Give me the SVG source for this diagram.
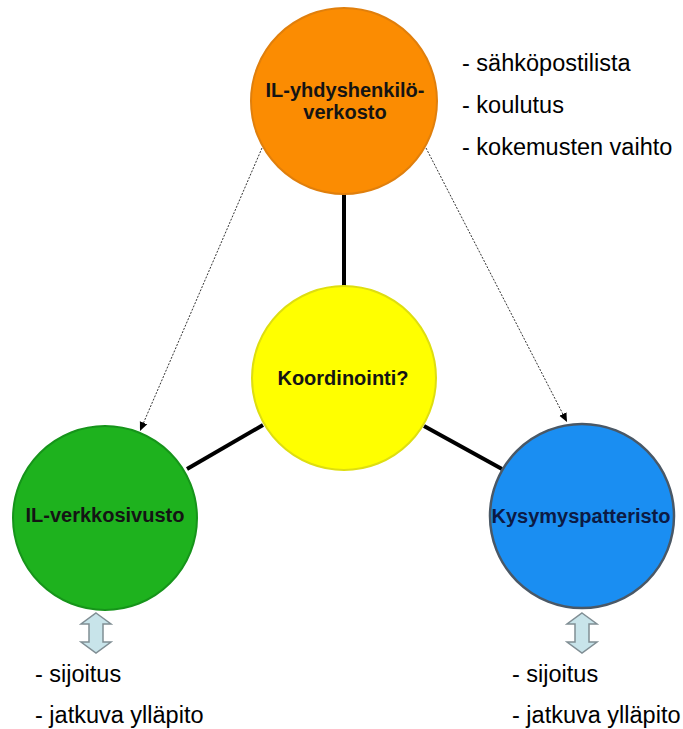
<svg xmlns="http://www.w3.org/2000/svg" width="683" height="729" viewBox="0 0 683 729">
<style>
.node{stroke-width:2}
.lbl{font-family:"Liberation Sans",Arial,sans-serif;font-weight:bold;font-size:20px;text-anchor:middle;fill:#141414}
.txt{font-family:"Liberation Sans",Arial,sans-serif;font-size:23.5px;fill:#000}
.link{stroke:#000;stroke-width:4;fill:none}
.dot{stroke:#333;stroke-width:1;stroke-dasharray:2,1.5;fill:none}
.barrow{fill:#c8e4ea;stroke:#808e94;stroke-width:1.5}
</style>
<defs>
<marker id="ah" markerWidth="10" markerHeight="10" refX="9" refY="5" orient="auto" markerUnits="userSpaceOnUse">
<path d="M0,1 L9,5 L0,9 z" fill="#000"/>
</marker>
<path id="dblarrow" d="M0,-20 L15,-9 L7,-9 L7,9 L15,9 L0,20 L-15,9 L-7,9 L-7,-9 L-15,-9 z"/>
</defs>
<rect width="683" height="729" fill="#fff"/>
<g id="connectors">
<line class="link" x1="344" y1="194" x2="344" y2="287"/>
<line class="link" x1="263" y1="425" x2="187" y2="469"/>
<line class="link" x1="424" y1="426" x2="502" y2="469"/>
<line class="dot" x1="262" y1="148" x2="140" y2="431" marker-end="url(#ah)"/>
<line class="dot" x1="426" y1="148" x2="567" y2="422" marker-end="url(#ah)"/>
</g>
<g id="node-verkosto">
<circle class="node" cx="344" cy="101" r="93" fill="#fb8c02" stroke="#e07f0c"/>
<text class="lbl" x="345" y="97">IL-yhdyshenkilö-</text>
<text class="lbl" x="345" y="119">verkosto</text>
</g>
<g id="node-koordinointi">
<circle class="node" cx="344" cy="378" r="92" fill="#ffff00" stroke="#dede10"/>
<text class="lbl" x="343" y="385">Koordinointi?</text>
</g>
<g id="node-verkkosivusto">
<circle class="node" cx="105" cy="518" r="92" fill="#1eb21e" stroke="#16941a"/>
<text class="lbl" x="105" y="522">IL-verkkosivusto</text>
</g>
<g id="node-kysymyspatteristo">
<circle class="node" cx="582" cy="516" r="92" fill="#1a8ef2" stroke="#4a5866" style="stroke-width:2.5"/>
<text class="lbl" x="581" y="523" style="fill:#0c1a44">Kysymyspatteristo</text>
</g>
<g id="list-top">
<text class="txt" x="462" y="71">- sähköpostilista</text>
<text class="txt" x="462" y="113">- koulutus</text>
<text class="txt" x="462" y="155">- kokemusten vaihto</text>
</g>
<g id="list-left">
<use href="#dblarrow" class="barrow" x="96" y="633"/>
<text class="txt" x="35" y="682">- sijoitus</text>
<text class="txt" x="35" y="723">- jatkuva ylläpito</text>
</g>
<g id="list-right">
<use href="#dblarrow" class="barrow" x="582" y="633"/>
<text class="txt" x="512" y="682">- sijoitus</text>
<text class="txt" x="512" y="723">- jatkuva ylläpito</text>
</g>
</svg>
